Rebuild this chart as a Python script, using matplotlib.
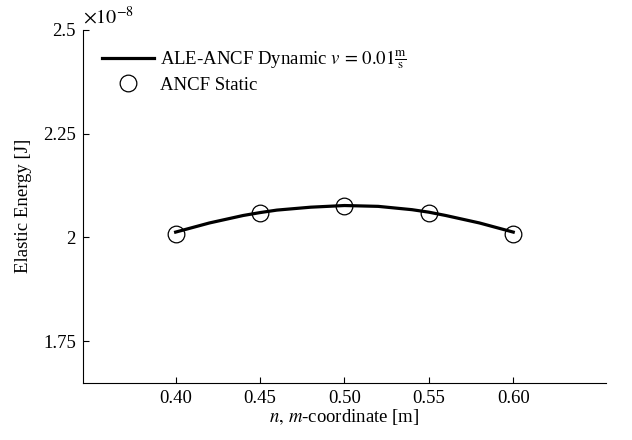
import matplotlib
matplotlib.use("Agg")
import matplotlib.pyplot as plt
from matplotlib.ticker import FuncFormatter

plt.rcParams['font.family'] = 'serif'
plt.rcParams['font.serif'] = ['Liberation Serif', 'DejaVu Serif']
plt.rcParams['mathtext.fontset'] = 'stix'
plt.rcParams['font.size'] = 13.5

# dynamic ALE-ANCF curve (J)
dyn_x = [0.40, 0.42, 0.44, 0.45, 0.46, 0.48, 0.50, 0.52, 0.54, 0.55, 0.56, 0.58, 0.60]
dyn_e = [2.013e-8, 2.035e-8, 2.053e-8, 2.060e-8, 2.066e-8, 2.073e-8, 2.077e-8,
         2.075e-8, 2.067e-8, 2.061e-8, 2.053e-8, 2.035e-8, 2.013e-8]

# static ANCF results (J)
stat_x = [0.40, 0.45, 0.50, 0.55, 0.60]
stat_e = [2.008e-8, 2.060e-8, 2.076e-8, 2.060e-8, 2.008e-8]

x_ticks = [0.40, 0.45, 0.50, 0.55, 0.60]
y_ticks = [1.75e-8, 2.0e-8, 2.25e-8, 2.5e-8]

fig = plt.figure(figsize=(6.32, 4.4), dpi=100)
ax = fig.add_axes([0.131, 0.13, 0.828, 0.802])

ax.plot(dyn_x, dyn_e, color='black', lw=2.3,
        label=r'ALE-ANCF Dynamic $v\,=\,0.01\frac{\mathrm{m}}{\mathrm{s}}$')
ax.plot(stat_x, stat_e, linestyle='none', marker='o', markersize=12,
        markerfacecolor='none', markeredgecolor='black', markeredgewidth=0.9,
        label='ANCF Static')

ax.set_xlim(0.345, 0.655)
ax.set_ylim(1.65e-8, 2.5e-8)
ax.set_xticks(x_ticks)
ax.set_yticks(y_ticks)
ax.xaxis.set_major_formatter(FuncFormatter(lambda v, p: f"{v:.2f}"))
ax.yaxis.set_major_formatter(FuncFormatter(lambda v, p: f"{v / 1e-8:g}"))
ax.text(0.0, 1.005, r'$\times10^{-8}$', transform=ax.transAxes,
        ha='left', va='bottom', fontsize=14.5)

ax.spines['top'].set_visible(False)
ax.spines['right'].set_visible(False)
ax.tick_params(direction='in', length=4, width=0.8, pad=5)

ax.set_xlabel(r'$n,\,m$-coordinate [m]', labelpad=0)
ax.set_ylabel('Elastic Energy [J]', labelpad=8)

ax.legend(loc='upper left', frameon=False, handlelength=2.8,
          borderaxespad=0.5, labelspacing=0.3, handletextpad=0.3,
          borderpad=0.5)

fig.savefig('out.png', dpi=100)
